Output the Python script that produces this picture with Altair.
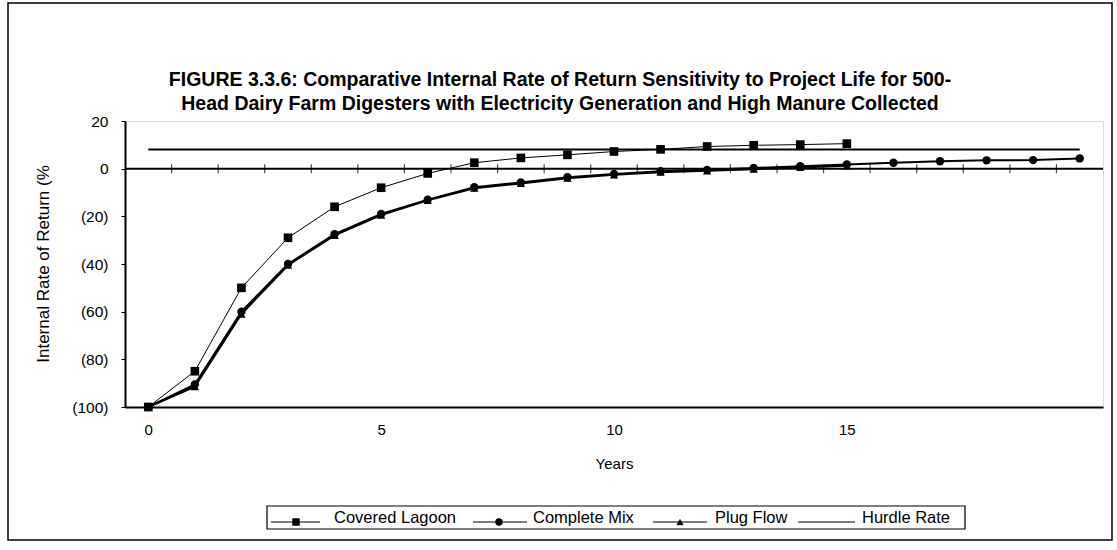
import altair as alt
import pandas as pd

# Project life in years and IRR (%) for each digester type
years = list(range(0, 21))
covered_lagoon = [-100, -85, -50, -29, -16, -8, -2, 2.5, 4.5, 5.8, 7.2, 8.1, 9.3, 9.8, 10.1, 10.5]
complete_mix = [-100, -90.5, -60, -40, -27.5, -19, -13, -7.8, -5.8, -3.6, -2.2,
                -1.1, -0.5, 0.3, 1.0, 1.8, 2.5, 3.1, 3.5, 3.6, 4.3]
plug_flow = [-100, -91.5, -61, -40.5, -28, -19.5, -13.3, -8.2, -6.2, -4.0, -2.6,
             -1.5, -0.9, -0.2, 0.5, 1.2]
hurdle_rate = [8] * 21

y_ticks = [-100, -80, -60, -40, -20, 0, 20]
x_labels = [0, 5, 10, 15]
half_year_ticks = [y + 0.5 for y in range(0, 20)]

title_lines = [
    "FIGURE 3.3.6:  Comparative Internal Rate of Return Sensitivity to Project Life for 500-",
    "Head Dairy Farm Digesters with Electricity Generation and High Manure Collected",
]
series_names = ["Covered Lagoon", "Complete Mix", "Plug Flow", "Hurdle Rate"]

# plot area geometry (page pixels)
LEFT, TOP, W, H = 125, 121, 978, 286
PAGE_W, PAGE_H = 1117, 550
FONT = "Liberation Sans"


def frame(vals, name):
    return pd.DataFrame({"year": years[:len(vals)], "irr": vals, "series": name})


x_scale = alt.Scale(domain=[-0.5, 20.5], nice=False, zero=False)
y_scale = alt.Scale(domain=[-100, 20], nice=False, zero=False)

x_enc = alt.X("year:Q", scale=x_scale, axis=alt.Axis(
    values=x_labels, ticks=False, grid=False, domainColor="black", domainWidth=2,
    labelFontSize=15, labelColor="black", labelPadding=15, labelFont=FONT,
    title="Years", titleFontSize=15, titleFontWeight="normal", titleColor="black",
    titlePadding=19, titleFont=FONT))
y_enc = alt.Y("irr:Q", scale=y_scale, axis=alt.Axis(
    values=y_ticks, grid=False, domainColor="black", domainWidth=2,
    tickColor="black", tickSize=4, labelFontSize=15.5, labelColor="black",
    labelPadding=13, labelFont=FONT, title=None,
    labelExpr="datum.value < 0 ? '(' + abs(datum.value) + ')' : datum.value"))

one = pd.DataFrame({"k": [0]})


def deco_text(text, x, y, size=13, weight="normal", angle=0):
    return alt.Chart(one).mark_text(
        text=text, fontSize=size, fontWeight=weight, font=FONT, angle=angle,
        align="center", baseline="middle", color="black"
    ).encode(x=alt.value(x - LEFT), y=alt.value(y - TOP))


# series layers
lagoon_df = frame(covered_lagoon, series_names[0])
mix_df = frame(complete_mix, series_names[1])
plug_df = frame(plug_flow, series_names[2])
hurdle_df = frame(hurdle_rate, series_names[3])

hurdle_line = alt.Chart(hurdle_df).mark_line(color="black", strokeWidth=2).encode(x=x_enc, y=y_enc)
lagoon_line = alt.Chart(lagoon_df).mark_line(color="black", strokeWidth=1).encode(x="year:Q", y="irr:Q")
lagoon_pts = alt.Chart(lagoon_df).mark_point(shape="square", filled=True, color="black",
                                             size=75, opacity=1).encode(x="year:Q", y="irr:Q")
plug_line = alt.Chart(plug_df).mark_line(color="black", strokeWidth=2).encode(x="year:Q", y="irr:Q")
plug_pts = alt.Chart(plug_df).mark_point(shape="triangle-up", filled=True, color="black",
                                         size=70, opacity=1).encode(x="year:Q", y="irr:Q")
mix_line = alt.Chart(mix_df).mark_line(color="black", strokeWidth=2).encode(x="year:Q", y="irr:Q")
mix_pts = alt.Chart(mix_df).mark_point(shape="circle", filled=True, color="black",
                                       size=70, opacity=1).encode(x="year:Q", y="irr:Q")

# zero line with cross ticks between years
zero_df = pd.DataFrame({"x0": [-0.5], "x1": [20.5], "y0": [0]})
zero_line = alt.Chart(zero_df).mark_rule(color="black", strokeWidth=2).encode(
    x=alt.X("x0:Q"), x2="x1:Q", y=alt.Y("y0:Q"))
tick_df = pd.DataFrame({"t": half_year_ticks, "y0": 0})
zero_ticks = alt.Chart(tick_df).mark_tick(color="black", size=9, thickness=1.2, orient="vertical").encode(
    x="t:Q", y="y0:Q")

# titles
title1 = deco_text(title_lines[0], 560, 80, size=19.5, weight="bold")
title2 = deco_text(title_lines[1], 560, 104, size=19.5, weight="bold")
y_title = deco_text("Internal Rate of Return (%", 44, 264, size=17, angle=270)

# legend box with sample lines, markers and names
legend_box = alt.Chart(one).mark_rect(fill="white", stroke="black", strokeWidth=1.2).encode(
    x=alt.value(267 - LEFT), x2=alt.value(965 - LEFT),
    y=alt.value(506 - TOP), y2=alt.value(529 - TOP))

LEG_Y = 518
legend_items = [
    # name, line start, line end, marker x, marker shape, text start
    (series_names[0], 271, 320, 296, "square", 334),
    (series_names[1], 473, 527, 499, "circle", 533),
    (series_names[2], 653, 707, 680, "triangle-up", 715),
    (series_names[3], 798, 855, None, None, 862),
]
legend_layers = [legend_box]
for name, lx0, lx1, mx, shape, tx in legend_items:
    legend_layers.append(alt.Chart(one).mark_rule(color="black", strokeWidth=1.2).encode(
        x=alt.value(lx0 - LEFT), x2=alt.value(lx1 - LEFT),
        y=alt.value(LEG_Y + 4 - TOP)))
    if shape:
        legend_layers.append(alt.Chart(one).mark_point(shape=shape, filled=True, color="black",
                                                        size=55, opacity=1).encode(
            x=alt.value(mx - LEFT), y=alt.value(LEG_Y + 4 - TOP)))
    legend_layers.append(alt.Chart(one).mark_text(
        text=name, fontSize=16.5, font=FONT, align="left", baseline="middle", color="black"
    ).encode(x=alt.value(tx - LEFT), y=alt.value(LEG_Y - TOP)))

# outer figure border
border = alt.Chart(one).mark_rect(fill=None, stroke="black", strokeWidth=1.5).encode(
    x=alt.value(8 - LEFT), x2=alt.value(1112 - LEFT),
    y=alt.value(3 - TOP), y2=alt.value(540 - TOP))

chart = alt.layer(
    border, hurdle_line, zero_line, zero_ticks,
    lagoon_line, plug_line, mix_line, lagoon_pts, plug_pts, mix_pts,
    title1, title2, y_title, *legend_layers
).properties(
    width=W, height=H,
    padding={"left": LEFT, "top": TOP, "right": PAGE_W - LEFT - W, "bottom": PAGE_H - TOP - H},
    autosize=alt.AutoSizeParams(type="none"),
    background="white",
).configure_view(
    stroke="black", strokeWidth=1
).configure(font=FONT)

chart.save("out.html", embed_options={"renderer": "svg", "actions": False})
